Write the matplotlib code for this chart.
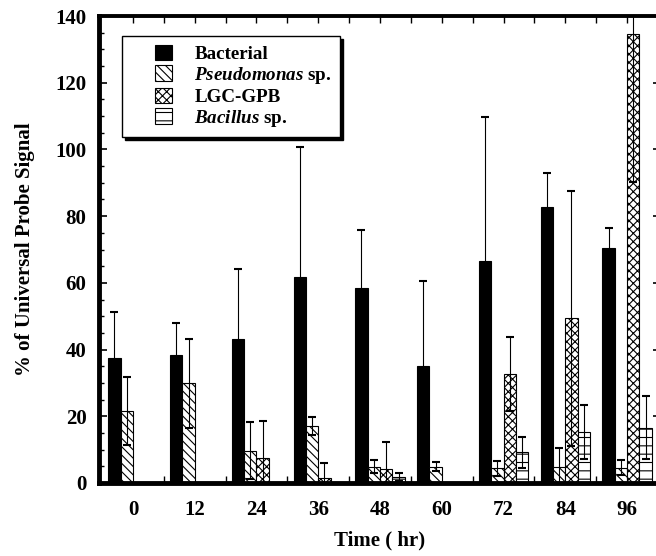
import numpy as np
import matplotlib
matplotlib.use("Agg")
from matplotlib import pyplot as plt
from matplotlib.patches import Rectangle
from matplotlib.legend_handler import HandlerPatch
from matplotlib.ticker import MultipleLocator, FixedLocator

plt.rcParams['font.family'] = ['Liberation Serif', 'DejaVu Serif']
plt.rcParams['font.weight'] = 'bold'
plt.rcParams['axes.labelweight'] = 'bold'
plt.rcParams['mathtext.fontset'] = 'custom'
plt.rcParams['mathtext.rm'] = 'Liberation Serif:bold'
plt.rcParams['mathtext.it'] = 'Liberation Serif:bold:italic'
plt.rcParams['hatch.linewidth'] = 0.8

# data
times = [0, 12, 24, 36, 48, 60, 72, 84, 96]
nan = np.nan
bacterial = [37.4, 38.4, 43.3, 61.8, 58.4, 35.1, 66.5, 82.8, 70.4]
bacterial_err = [13.8, 9.7, 21.0, 39.0, 17.4, 25.5, 43.3, 10.1, 5.9]
pseudo = [21.6, 29.9, 9.7, 17.1, 4.9, 4.9, 4.4, 4.9, 4.6]
pseudo_err = [10.3, 13.4, 8.5, 2.8, 2.0, 1.4, 2.3, 5.5, 2.3]
lgc = [nan, nan, 7.4, 1.4, 4.2, nan, 32.6, 49.4, 134.5]
lgc_err = [nan, nan, 11.3, 4.5, 8.0, nan, 11.1, 38.2, 44.2]
bacillus = [nan, nan, nan, nan, 1.7, nan, 9.2, 15.2, 16.6]
bacillus_err = [nan, nan, nan, nan, 1.2, nan, 4.7, 8.1, 9.5]

labels = ['Bacterial', r'$\mathit{Pseudomonas}$ sp.', 'LGC-GPB', r'$\mathit{Bacillus}$ sp.']

W, H = 656, 556
fig = plt.figure(figsize=(W / 100, H / 100), dpi=100)
ax = fig.add_axes([99 / W, (H - 483) / H, (661 - 99) / W, (483 - 16) / H])

x = np.arange(len(times))
bw = 0.2
series = [
    (bacterial, bacterial_err, dict(facecolor='black', hatch=None)),
    (pseudo, pseudo_err, dict(facecolor='white', hatch='\\\\\\\\')),
    (lgc, lgc_err, dict(facecolor='white', hatch='xxxx')),
    (bacillus, bacillus_err, dict(facecolor='white', hatch='--')),
]
handles = []
for k, (vals, errs, sty) in enumerate(series):
    vals = np.array(vals, dtype=float)
    errs = np.array(errs, dtype=float)
    ok = ~np.isnan(vals)
    xs = x[ok] + (k - 1.5) * bw
    b = ax.bar(xs, vals[ok], width=bw, edgecolor='black', linewidth=0.8,
               zorder=2, **sty)
    handles.append(b.patches[0])
    ax.errorbar(xs, vals[ok], yerr=errs[ok], fmt='none', ecolor='black',
                elinewidth=0.8, capsize=2.6, capthick=1.5, zorder=3)

ax.set_xlim(-0.55, 8.55)
ax.set_ylim(0, 140)

ax.set_xticks(x)
ax.set_xticklabels([str(t) for t in times])
ax.xaxis.set_minor_locator(FixedLocator(x[:-1] + 0.5))
ax.tick_params(axis='x', which='major', direction='in', top=True, bottom=False,
               length=5, width=1.0, labelsize=15, pad=12)
ax.tick_params(axis='x', which='minor', direction='in', top=True, bottom=True,
               length=5, width=1.0)

ax.set_yticks(np.arange(0, 141, 20))
ax.yaxis.set_minor_locator(MultipleLocator(5))
ax.tick_params(axis='y', which='major', direction='in', left=True, right=True,
               length=6, width=1.2, labelsize=15, pad=9)
ax.tick_params(axis='y', which='minor', direction='in', left=True, right=True,
               length=3.5, width=1.0)

for side in ['left', 'bottom', 'right']:
    ax.spines[side].set_linewidth(3.5)
ax.spines['top'].set_linewidth(2.8)

ax.set_xlabel('Time ( hr)', fontsize=15, fontweight='bold', labelpad=8)
ax.set_ylabel('% of Universal Probe Signal', fontsize=15, fontweight='bold',
              labelpad=15)


def square_patch(legend, orig_handle, xdescent, ydescent, width, height, fontsize):
    side = 0.93 * fontsize
    return Rectangle((width - side - xdescent, -ydescent), side, height)


leg = ax.legend(handles, labels, loc='upper left',
                bbox_to_anchor=((122 - 99) / 562, (483 - 36) / 467),
                borderaxespad=0, fontsize=13.7, frameon=True, fancybox=False,
                edgecolor='black', framealpha=1,
                shadow={'color': 'black', 'alpha': 1},
                handlelength=2.2, handleheight=0.85, handletextpad=1.15,
                labelspacing=0.1, borderpad=0.45,
                handler_map={Rectangle: HandlerPatch(patch_func=square_patch)})
leg.get_frame().set_linewidth(1.0)
leg.set_zorder(5)

fig.savefig('out.png', dpi=100)
